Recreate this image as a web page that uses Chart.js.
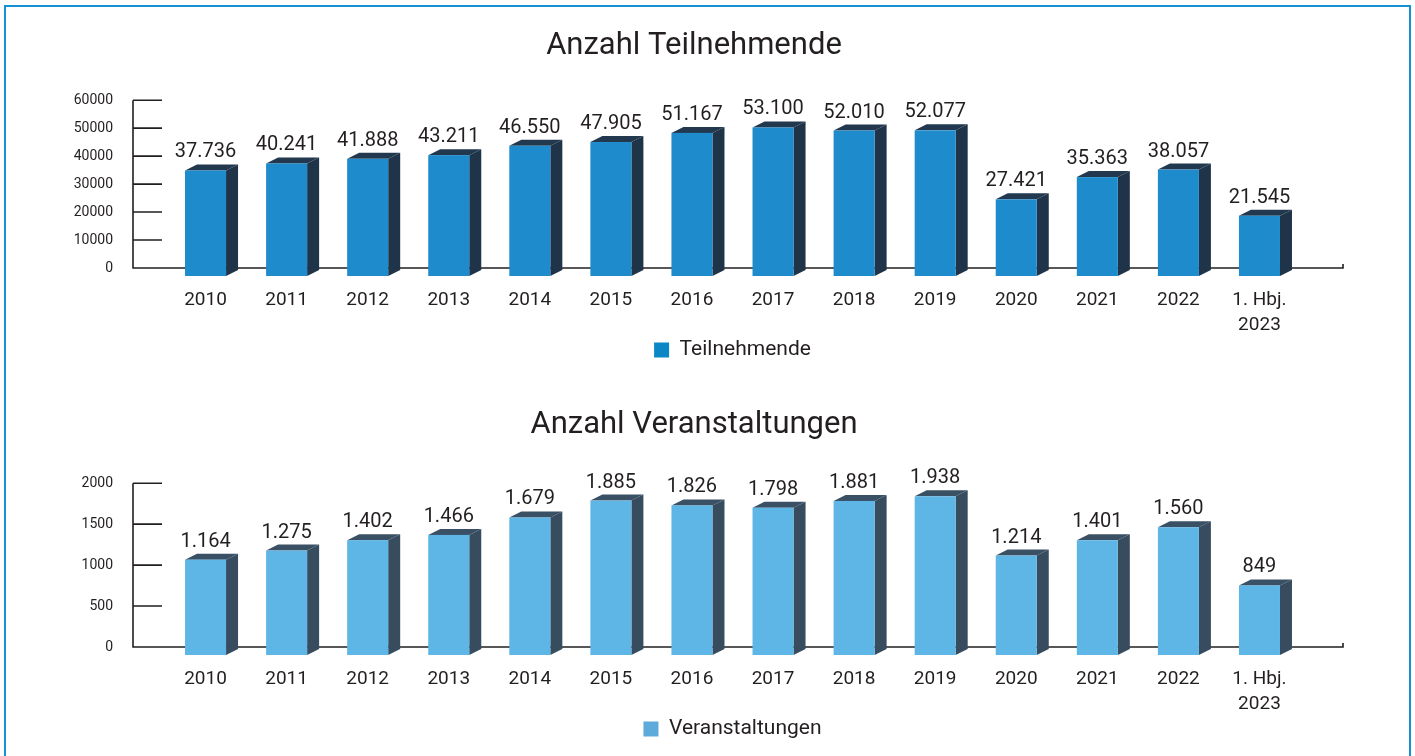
<!DOCTYPE html>
<html>
<head>
<meta charset="utf-8">
<script src="https://cdn.jsdelivr.net/npm/chart.js@4.4.1/dist/chart.umd.min.js"></script>
<style>
  html, body { margin:0; padding:0; background:#ffffff; width:1415px; height:756px; overflow:hidden; }
  #frame { position:absolute; left:4px; top:5px; width:1407px; height:820px; border:2px solid #1592d4; box-sizing:border-box; }
  canvas { position:absolute; left:0; }
  #c1 { top:0; }
  #c2 { top:379px; }
</style>
</head>
<body>
<div id="frame"></div>
<canvas id="c1" width="1415" height="380"></canvas>
<canvas id="c2" width="1415" height="380"></canvas>
<script>
// ---------- data ----------
const categories = ['2010','2011','2012','2013','2014','2015','2016','2017','2018','2019','2020','2021','2022',['1. Hbj.','2023']];
const teilnehmende = [37736, 40241, 41888, 43211, 46550, 47905, 51167, 53100, 52010, 52077, 27421, 35363, 38057, 21545];
const veranstaltungen = [1164, 1275, 1402, 1466, 1679, 1885, 1826, 1798, 1881, 1938, 1214, 1401, 1560, 849];
const teilnehmendeTicks = { min: 0, max: 60000, step: 10000 };
const veranstaltungenTicks = { min: 0, max: 2000, step: 500 };
const titleTop = 'Anzahl Teilnehmende';
const titleBottom = 'Anzahl Veranstaltungen';
const seriesTop = 'Teilnehmende';
const seriesBottom = 'Veranstaltungen';

// ---------- helpers ----------
const TEXT = '#231f20';
const FONT = 'Roboto, "Open Sans", sans-serif';
function fmtDE(v) {
  return String(v).replace(/\B(?=(\d{3})+(?!\d))/g, '.');
}
const measureCtx = document.createElement('canvas').getContext('2d');
function textWidth(str, px) {
  measureCtx.font = px + 'px ' + FONT;
  return measureCtx.measureText(str).width;
}

const bar3d = {
  id: 'bar3d',
  beforeDatasetsDraw(chart, args, o) {
    const ctx = chart.ctx;
    const ys = chart.scales.y;
    const area = chart.chartArea;
    const zero = ys.getPixelForValue(0);
    const topPx = ys.getPixelForValue(ys.max);
    const axX = area.left - o.axisGap;
    ctx.save();
    ctx.strokeStyle = TEXT;
    ctx.lineWidth = 1.6;
    ctx.beginPath();
    ctx.moveTo(axX, topPx);
    ctx.lineTo(axX, zero + 0.8);
    ys.ticks.forEach(t => {
      const py = ys.getPixelForValue(t.value);
      ctx.moveTo(axX, py);
      ctx.lineTo(axX + o.tickLen, py);
    });
    ctx.moveTo(axX, zero);
    ctx.lineTo(area.right + o.baseExtra, zero);
    ctx.lineTo(area.right + o.baseExtra, zero - 4);
    ctx.stroke();

    const meta = chart.getDatasetMeta(0);
    const data = chart.data.datasets[0].data;
    meta.data.forEach((el, i) => {
      const p = el.getProps(['x', 'y', 'base', 'width'], true);
      const l = p.x - p.width / 2, r = p.x + p.width / 2;
      const t = p.y + o.drop, b = p.base + o.drop;
      ctx.fillStyle = o.side;
      ctx.beginPath();
      ctx.moveTo(r, t); ctx.lineTo(r + o.dx, t - o.dy); ctx.lineTo(r + o.dx, b - o.dy); ctx.lineTo(r, b);
      ctx.closePath(); ctx.fill();
      ctx.fillStyle = o.topFace;
      ctx.beginPath();
      ctx.moveTo(l, t); ctx.lineTo(l + o.dx, t - o.dy); ctx.lineTo(r + o.dx, t - o.dy); ctx.lineTo(r, t);
      ctx.closePath(); ctx.fill();
      ctx.fillStyle = o.front;
      ctx.fillRect(l, t, p.width, b - t);
      ctx.fillStyle = TEXT;
      ctx.font = '20px ' + FONT;
      ctx.textAlign = 'center';
      ctx.textBaseline = 'middle';
      ctx.fillText(fmtDE(data[i]), p.x, t - o.labelGap);
    });
    ctx.restore();
    return false;
  }
};

// chart area spans x 165..1300 in every canvas; y tick labels end at x=113
function makeChart(id, title, label, values, ticks, legendColor, style, titlePadBottom) {
  const widest = textWidth(String(ticks.max), 14);
  return new Chart(document.getElementById(id), {
    type: 'bar',
    data: {
      labels: categories,
      datasets: [{
        label: label,
        data: values,
        backgroundColor: legendColor,
        categoryPercentage: 1,
        barPercentage: 0.506
      }]
    },
    plugins: [bar3d],
    options: {
      responsive: false,
      animation: false,
      devicePixelRatio: 1,
      layout: { padding: { left: 88, right: 115, top: 0, bottom: 9.5 } },
      scales: {
        x: {
          type: 'category',
          offset: true,
          grid: { display: false, drawTicks: false },
          border: { display: false },
          ticks: {
            color: TEXT,
            font: { family: FONT, size: 19, lineHeight: 1.32 },
            padding: 19.5,
            maxRotation: 0,
            autoSkip: false
          },
          afterFit(scale) { scale.height = 68.5; }
        },
        y: {
          min: ticks.min,
          max: ticks.max,
          grid: { display: false, drawTicks: false },
          border: { display: false },
          ticks: {
            stepSize: ticks.step,
            color: TEXT,
            font: { family: FONT, size: 14 },
            mirror: true,
            crossAlign: 'far',
            padding: 113 - 165 - widest,
            callback: v => String(v)
          },
          afterFit(scale) { scale.width = 77; }
        }
      },
      plugins: {
        title: {
          display: true,
          text: title,
          color: TEXT,
          font: { family: FONT, size: 31, weight: 'normal' },
          padding: { top: 28, bottom: titlePadBottom }
        },
        legend: {
          position: 'bottom',
          fullSize: false,
          labels: {
            color: TEXT,
            font: { family: FONT, size: 21 },
            boxWidth: 15,
            boxHeight: 15,
            padding: 3
          }
        },
        tooltip: { enabled: false },
        bar3d: style
      }
    }
  });
}

makeChart('c1', titleTop, seriesTop, teilnehmende, teilnehmendeTicks, '#0a87c4',
  { front: '#1e8bcd', side: '#1f3349', topFace: '#22384f', dx: 12, dy: 6, drop: 8, labelGap: 18, axisGap: 32, tickLen: 29, baseExtra: 43 }, 35);
makeChart('c2', titleBottom, seriesBottom, veranstaltungen, veranstaltungenTicks, '#5eaada',
  { front: '#5eb6e6', side: '#374c5e', topFace: '#3a5064', dx: 12, dy: 6, drop: 8, labelGap: 18, axisGap: 32, tickLen: 29, baseExtra: 43 }, 39);
</script>
</body>
</html>
